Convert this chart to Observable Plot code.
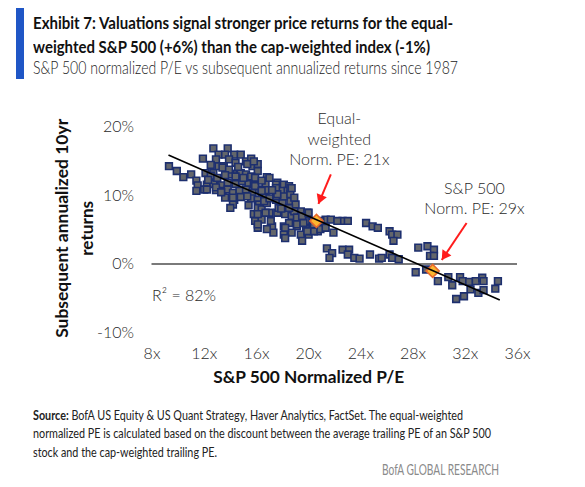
<!DOCTYPE html>
<html><head><meta charset="utf-8">
<script src="https://cdn.jsdelivr.net/npm/d3@7"></script>
<script src="https://cdn.jsdelivr.net/npm/@observablehq/plot@0.6"></script>
<style>
body{margin:0;background:#fff;}
#page{position:relative;width:585px;height:487px;overflow:hidden;font-family:Lato,"Open Sans",sans-serif;}
#bar{position:absolute;left:16px;top:8px;width:8px;height:71px;background:#1f56c6;}
.line{position:absolute;left:33px;white-space:nowrap;transform-origin:0 50%;}
.t{font-family:"Liberation Sans Narrow",Lato,sans-serif;font-weight:bold;font-size:17.5px;color:#111;line-height:24px;}
.s{font-family:Lato,sans-serif;font-weight:300;font-size:17px;color:#222;line-height:24px;}
.f{font-family:"Liberation Sans Narrow",Lato,sans-serif;font-size:13.5px;color:#222;line-height:18px;}
#chart{position:absolute;left:0;top:90px;}
#brand{position:absolute;left:382px;top:461px;white-space:nowrap;transform-origin:0 50%;font-family:"Liberation Sans Narrow",Lato,sans-serif;font-size:14.5px;color:#8a8a8a;line-height:18px;}
</style></head>
<body><div id="page">
<div id="bar"></div>
<div class="line t" id="t1" data-w="420" style="top:11px">Exhibit 7: Valuations signal stronger price returns for the equal-</div>
<div class="line t" id="t2" data-w="397" style="top:35px">weighted S&amp;P 500 (+6%) than the cap-weighted index (-1%)</div>
<div class="line s" id="s1" data-w="425" style="top:56px">S&amp;P 500 normalized P/E vs subsequent annualized returns since 1987</div>
<div id="chart"></div>
<div class="line f" data-w="430" style="top:406px"><b>Source:</b> BofA US Equity &amp; US Quant Strategy, Haver Analytics, FactSet. The equal-weighted</div>
<div class="line f" data-w="458" style="top:424px">normalized PE is calculated based on the discount between the average trailing PE of an S&amp;P 500</div>
<div class="line f" data-w="184" style="top:443px">stock and the cap-weighted trailing PE.</div>
<div id="brand" data-w="117">BofA GLOBAL RESEARCH</div>
</div>
<script>
// S&P 500 normalized P/E (x) and subsequent annualized 10yr return, % (y)
const peValues = [
 9.3,9.9,10.4,11.0,11.4,11.5,11.4,12.7,13.8,13.1,13.6,14.3,14.8,11.9,12.9,13.9,15.2,15.6,12.5,13.1,
 13.5,14.4,15.7,16.1,16.1,12.1,12.7,14.2,14.8,15.2,15.6,15.9,16.8,12.2,12.7,13.3,13.8,14.4,14.9,15.4,
 15.8,16.7,12.0,12.9,13.4,13.8,14.2,14.7,15.2,15.7,16.2,16.4,16.8,13.6,14.3,14.8,15.6,16.1,16.7,14.2,
 16.2,14.0,15.8,15.9,16.1,16.1,16.4,17.2,17.3,17.0,17.6,18.1,18.5,17.9,18.4,16.8,17.5,18.0,18.6,19.0,
 19.4,19.9,17.0,17.6,18.2,18.7,19.3,19.8,21.0,21.3,16.4,17.1,18.1,18.5,19.1,19.8,20.3,20.7,16.8,18.1,
 18.7,19.4,20.0,18.2,19.5,21.4,21.7,22.6,23.0,24.4,24.9,25.3,26.2,26.4,26.8,26.5,21.9,21.8,21.6,22.6,
 23.1,23.0,23.5,23.9,24.7,25.4,25.6,26.2,26.4,26.9,28.4,29.1,29.6,29.3,29.6,28.2,29.0,29.9,30.7,31.0,
 31.6,31.8,32.3,32.8,33.3,33.4,32.4,33.0,33.4,34.5,34.3,31.3,31.9,20.3,20.4,20.9,21.3,15.3,15.9,16.4,
 17.5,17.5,18.1,18.6,16.1,16.7,16.1,18.9,20.4,20.9,12.5,12.2,12.9,13.3,14.0,13.4,13.9,14.4,15.3,15.8,
 14.2,16.6,17.5,17.6,17.7,18.2,18.6,18.5,19.1,19.1,19.5,19.6,19.9,20.0,22.2,18.7,13.0,14.6,15.0,16.4,
 13.6,12.3,17.2,17.0,15.4,17.9,18.9
];
const returnValues = [
 14.3,13.6,12.7,13.1,12.2,11.5,10.7,16.9,16.9,16.0,16.0,16.0,16.0,15.4,15.3,15.3,15.0,15.4,14.5,14.3,
 14.3,14.8,14.3,14.6,13.6,13.3,13.3,13.2,13.3,13.1,12.8,12.6,12.7,11.6,11.7,11.5,11.9,11.7,12.1,11.7,
 11.6,11.6,10.9,10.8,10.7,10.9,10.4,10.7,10.9,10.4,10.9,10.2,10.8,9.7,9.4,9.8,9.6,9.4,9.7,8.7,
 8.7,8.2,7.3,6.3,5.3,8.2,8.0,5.5,4.6,12.6,11.9,11.6,11.4,10.7,10.7,8.9,9.4,8.9,9.2,8.7,
 7.7,7.5,7.5,7.5,7.3,7.0,6.5,6.3,5.8,6.5,6.5,6.3,5.5,6.0,5.5,5.1,5.3,4.8,5.1,4.3,
 4.6,4.3,4.3,3.8,3.4,2.3,6.5,6.3,6.3,6.0,5.5,5.3,4.8,4.3,4.3,3.4,4.6,1.6,0.9,2.1,
 2.1,1.4,0.9,0.8,1.4,0.8,0.9,1.4,0.9,0.7,2.4,2.6,2.1,1.2,1.2,-1.2,-0.8,-2.5,-1.9,-3.1,
 -1.9,-2.5,-2.6,-2.5,-2.0,-2.5,-3.7,-4.2,-3.8,-2.5,-3.6,-5.1,-4.7,6.3,4.8,5.1,5.3,9.9,11.4,10.7,
 11.6,9.9,9.9,10.2,7.3,7.5,5.8,7.7,5.8,6.3,12.9,10.9,11.2,10.5,13.1,14.1,13.8,12.8,14.6,15.0,
 9.7,9.2,11.1,10.2,8.2,5.3,11.1,8.2,6.8,5.8,7.0,6.0,4.8,7.5,6.3,11.1,12.6,14.2,12.6,12.2,
 13.0,12.3,10.8,9.6,8.6,8.1,9.7
];
// Current readings (highlighted diamonds)
const currentLabels = ["Equal-weighted", "S&P 500"];
const currentPE = [20.6, 29.5];
const currentReturn = [6.3, -1.0];
// Regression line end points
const fitPE = [9.3, 34.6];
const fitReturn = [15.9, -5.2];
// Axis ticks
const xTicks = [8, 12, 16, 20, 24, 28, 32, 36];
const yTicks = [-10, 0, 10, 20];
// Annotations
const annoText = ["Equal-\nweighted\nNorm. PE: 21x", "S&P 500\nNorm. PE: 29x"];
const annoX = [22.35, 32.7];
const annoY = [18.4, 9.7];
const arrowFromX = [21.7, 32.1], arrowFromY = [13.1, 6.0];
const arrowToX = [20.75, 30.2], arrowToY = [8.8, 0.6];
const r2Label = "R\u00b2 = 82%";
const yLabel1 = "Subsequent annualized 10yr";
const yLabel2 = "returns";
const xLabel = "S&P 500 Normalized P/E";

const points = peValues.map((pe, i) => ({pe, ret: returnValues[i]}));
const current = currentPE.map((pe, i) => ({label: currentLabels[i], pe, ret: currentReturn[i]}));
const fit = fitPE.map((pe, i) => ({pe, ret: fitReturn[i]}));
const arrows = arrowFromX.map((x1, i) => ({x1, y1: arrowFromY[i], x2: arrowToX[i], y2: arrowToY[i]}));

const textFont = "Lato, 'Open Sans', sans-serif";
const boldFont = "'Liberation Sans Narrow', Lato, sans-serif";
const chart = Plot.plot({
  width: 585, height: 305,
  marginLeft: 151.5, marginRight: 68, marginTop: 36.7, marginBottom: 63,
  style: {fontFamily: textFont, fontSize: "16px", color: "#2a2a2a", background: "transparent", fontWeight: 300},
  x: {domain: [8, 36], ticks: xTicks, tickFormat: d => d + "x", tickSize: 0, tickPadding: 15, label: null},
  y: {domain: [-10, 20], ticks: yTicks, tickFormat: d => d + "%", tickSize: 0, tickPadding: 18, label: null},
  marks: [
    Plot.ruleY([0], {stroke: "#7a7a7a", strokeWidth: 2}),
    Plot.dot(points, {x: "pe", y: "ret", symbol: "square", r: 3.8, fill: "#63666b", stroke: "#1d2f6f", strokeWidth: 1.6}),
    Plot.dot(current, {x: "pe", y: "ret", symbol: "square", rotate: 45, r: 5.2, fill: "#fbb630", stroke: "#e8682c", strokeWidth: 1.6}),
    Plot.line(fit, {x: "pe", y: "ret", stroke: "#000", strokeWidth: 1.6}),
    Plot.link(arrows, {x1: "x1", y1: "y1", x2: "x2", y2: "y2", stroke: "#ff1c1c", strokeWidth: 2}),
    Plot.dot([arrows[0]], {x: "x2", y: "y2", symbol: "triangle", r: 4, rotate: 201.8, dx: 2.2, dy: -5.6, fill: "#ff1c1c"}),
    Plot.dot([arrows[1]], {x: "x2", y: "y2", symbol: "triangle", r: 4, rotate: 214, dx: 3.4, dy: -5.0, fill: "#ff1c1c"}),
    Plot.text(annoText, {x: (d, i) => annoX[i], y: (d, i) => annoY[i], text: d => d, fontSize: 16, lineHeight: 1.28, fill: "#2a2a2a", fontWeight: 300}),
    Plot.text([r2Label], {x: [8], y: [-4.7], text: d => d, textAnchor: "start", fontSize: 16, fill: "#2a2a2a", fontWeight: 300}),
    Plot.text([yLabel1], {frameAnchor: "left", textAnchor: "middle", text: d => d, rotate: -90, dx: -89.5, dy: -1.5, fontWeight: "bold", fontSize: 17.5, fontFamily: boldFont, fill: "#111"}),
    Plot.text([yLabel2], {frameAnchor: "left", textAnchor: "middle", text: d => d, rotate: -90, dx: -64.5, dy: -1.5, fontWeight: "bold", fontSize: 17.5, fontFamily: boldFont, fill: "#111"}),
    Plot.text([xLabel], {frameAnchor: "bottom", textAnchor: "middle", text: d => d, dy: 50, dx: -26, fontWeight: "bold", fontSize: 17.5, fontFamily: boldFont, fill: "#111"})
  ]
});
document.getElementById("chart").appendChild(chart);

// fit the bold axis labels to the reference lengths
const labelLengths = new Map([[yLabel1, 219], [yLabel2, 55], [xLabel, 191]]);
chart.querySelectorAll("text").forEach(t => {
  const L = labelLengths.get(t.textContent);
  if (L) { t.setAttribute("textLength", L); t.setAttribute("lengthAdjust", "spacingAndGlyphs"); }
});

// fit text lines to the reference line widths
document.querySelectorAll("[data-w]").forEach(el => {
  el.style.display = "inline-block";
  const w = el.getBoundingClientRect().width;
  const target = +el.dataset.w;
  if (w > 0) el.style.transform = `scaleX(${target / w})`;
});
</script>
</body></html>
